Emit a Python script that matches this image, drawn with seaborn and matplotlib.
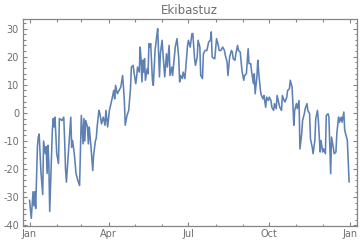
import numpy as np
import pandas as pd
import matplotlib
matplotlib.use("Agg")
import matplotlib.pyplot as plt
import matplotlib.dates as mdates
from matplotlib.ticker import MultipleLocator
import seaborn as sns

# day offsets from 1 Jan and daily temperature (deg C)
day_offsets = [0, 2, 4, 5, 6, 7, 9, 10, 11, 13, 15, 16, 18, 19, 20, 21, 22, 23, 26, 27,
               28, 29, 31, 33, 34, 37, 39, 40, 41, 42, 45, 46, 47, 48, 49, 51, 53, 55, 57, 59,
               61, 62, 63, 64, 66, 67, 68, 70, 72, 73, 75, 76, 77, 79, 80, 82, 84, 86, 87, 89,
               91, 94, 96, 97, 98, 100, 102, 104, 106, 107, 108, 109, 111, 113, 115, 116, 118, 119, 121, 122,
               123, 125, 126, 127, 128, 129, 130, 131, 132, 134, 135, 136, 137, 138, 140, 141, 143, 145, 146, 148,
               149, 151, 152, 154, 156, 157, 159, 160, 162, 163, 165, 166, 168, 170, 171, 172, 174, 175, 177, 178,
               180, 181, 183, 185, 186, 188, 189, 191, 192, 194, 195, 197, 198, 200, 202, 204, 206, 207, 208, 210,
               211, 213, 215, 216, 218, 220, 222, 223, 225, 226, 228, 230, 231, 232, 234, 235, 237, 238, 240, 242,
               244, 245, 247, 249, 250, 252, 253, 255, 256, 257, 259, 260, 261, 263, 264, 266, 267, 269, 270, 272,
               273, 275, 276, 278, 279, 281, 282, 284, 285, 287, 288, 290, 291, 293, 294, 296, 297, 299, 300, 301,
               302, 304, 305, 307, 308, 310, 311, 313, 314, 316, 317, 319, 320, 322, 323, 325, 326, 328, 329, 331,
               332, 334, 335, 337, 338, 340, 341, 343, 344, 346, 347, 349, 350, 352, 353, 355, 356, 358, 359, 361,
               362, 363, 364]
temperatures = [-31, -37.5, -28, -33, -28, -34, -12, -8.5, -7.5, -21, -29, -10, -14.5, -12, -21.5, -11.5, -18, -35, -6, -2,
                -5, -1.5, -14.5, -18, -2, -2.7, -1.5, -9.8, -20, -24.6, -11, -6, -1.5, -12.2, -9.8, -14.5, -21.6, -24, -25.8, -0.9,
                -11, -2, -10, -2.7, -5, -11, -5, -12, -20.5, -15, -10, -9, -5, 0.9, 0, -3.9, -1.5, -4.4, 0.9, -5,
                0.9, 5, 8, 5, 9.8, 6.8, 8, 9.2, 13.3, 9.2, 4.4, -4.4, -0.9, 0.9, 8.6, 16.3, 16.9, 14.5, 10.4, 12.8,
                16.3, 14.5, 23.4, 19.3, 11, 18.7, 14.5, 19.3, 11.6, 15.7, 13.9, 24.6, 23.4, 24.6, 11.6, 9.8, 22.2, 27.6, 29.9, 12.8,
                21, 25.8, 21, 12.8, 21, 16.3, 24, 13.3, 16.3, 13.3, 19.9, 23.4, 26.4, 19.3, 11, 13.3, 12.2, 14.5, 12.2, 16.3,
                24, 25.8, 23.4, 28.2, 28.2, 19.3, 16.9, 19.9, 25.8, 23.4, 13.3, 12.2, 21, 22.2, 22.2, 25.2, 25.8, 28.8, 19.9, 19.3,
                19.3, 26.4, 24, 22.2, 22.2, 23.4, 22.2, 20.5, 18.1, 13.3, 20, 22.2, 21.6, 19.3, 18.7, 21, 24, 22.2, 21.6, 15,
                11.6, 13.3, 13.9, 22.8, 17.5, 17.5, 14.5, 10.4, 13.9, 6.8, 12.8, 18.7, 14.5, 8, 6.2, 5, 6.2, 2, 5.6, 4.4,
                5.6, 4.4, 2, 0.9, 3.3, 1.5, 6.2, 3.3, 2, 0.9, 6.2, 4.4, 3.9, 5.6, 8, 8.6, 11.6, 9.2, 3.3, -4.4,
                0.9, 3.3, 1.5, 4.4, -12.8, -7.4, -2.7, -0.3, 1.5, 3.3, 0.9, -0.3, -9.2, -12.2, -14.5, -9.8, -2.1, 0.9, -2.7, -13.9,
                -9.8, -13.9, -12.8, -14.5, -0.9, -0.3, -1.5, -21.6, -8.6, -12.2, -14.5, -13.9, -7.4, -1.5, -3.3, -1.5, -3.3, 0.3, -6.2, -8.6,
                -9.8, -16.9, -24.6]
title_text = "Ekibastuz"
start_date = "2015-01-01"
x_tick_labels = ["Jan", "Apr", "Jul", "Oct", "Jan"]

sns.set_style("white")
plt.rcParams['font.family'] = ['DejaVu Sans']
plt.rcParams['axes.unicode_minus'] = False

dates = pd.Timestamp(start_date) + pd.to_timedelta(day_offsets, unit="D")
df = pd.DataFrame({"date": dates, "temp": temperatures})

fig = plt.figure(figsize=(3.6, 2.43), dpi=100)
ax = fig.add_axes([22.5 / 360, 1 - 226 / 243, (357 - 22.5) / 360, (226 - 19.5) / 243])

sns.lineplot(data=df, x="date", y="temp", ax=ax, color="#5E81B5", linewidth=1.15)

x0 = pd.Timestamp(start_date)
ax.set_xlim(x0 - pd.Timedelta(days=8), x0 + pd.Timedelta(days=373))
ax.set_ylim(-40.2, 33.2)

major_dates = [x0 + pd.DateOffset(months=3 * i) for i in range(5)]
ax.set_xticks(major_dates)
ax.set_xticklabels(x_tick_labels)
ax.xaxis.set_minor_locator(mdates.MonthLocator())
ax.yaxis.set_major_locator(MultipleLocator(10))
ax.yaxis.set_minor_locator(MultipleLocator(2))

frame_color = "#858585"
label_color = "#6e6e6e"
for s in ax.spines.values():
    s.set_color(frame_color)
    s.set_linewidth(0.9)
ax.tick_params(which="both", direction="in", top=True, right=True, color=frame_color,
               labelcolor=label_color, labelsize=7, width=0.8, bottom=True, left=True)
ax.tick_params(which="major", length=3.2, pad=2.5)
ax.tick_params(which="minor", length=1.8)
ax.set_xlabel("")
ax.set_ylabel("")
ax.grid(False)
ax.set_title(title_text, fontsize=8.5, color=label_color, pad=4)

fig.savefig("out.png", dpi=100)
